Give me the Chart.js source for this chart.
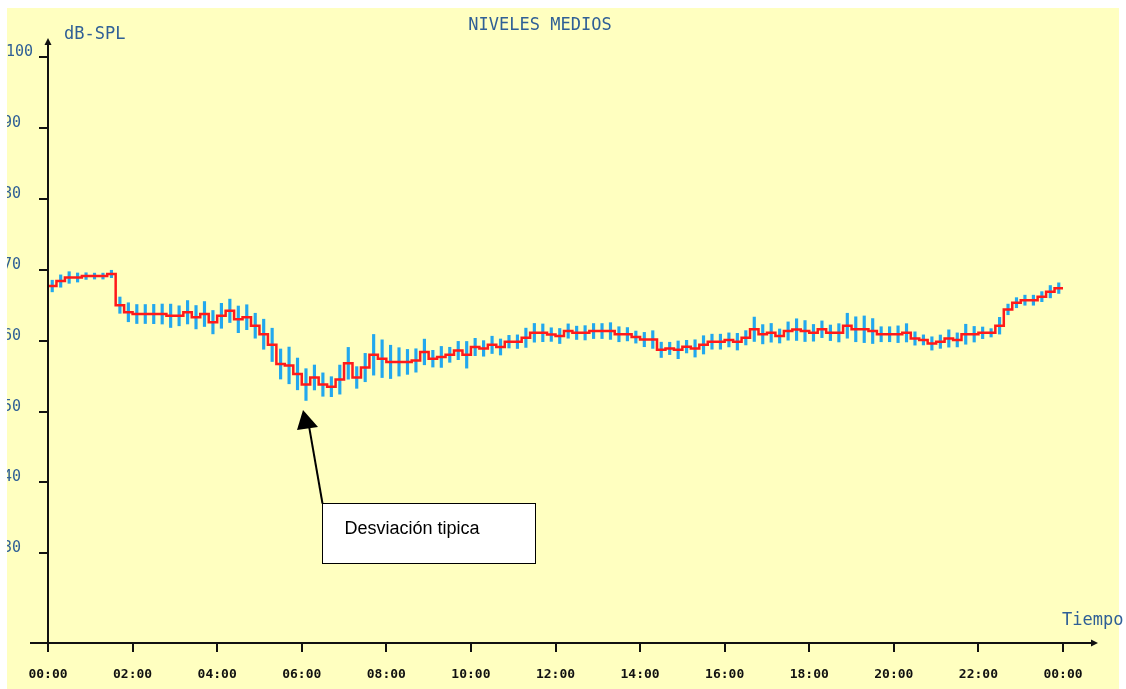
<!DOCTYPE html>
<html>
<head>
<meta charset="utf-8">
<script src="https://cdn.jsdelivr.net/npm/chart.js@4.4.1/dist/chart.umd.min.js"></script>
<style>
  html, body { margin: 0; padding: 0; background: #fff; }
  #wrap { position: relative; width: 1126px; height: 689px; overflow: hidden; }
  #bg { position: absolute; left: 7px; top: 8px; width: 1112px; height: 681px; background: #ffffc0; }
  canvas { position: absolute; left: 0; top: 0; }
</style>
</head>
<body>
<div id="wrap"><div id="bg"></div><canvas id="chart" width="1126" height="689"></canvas></div>
<script>
// mean level per 12-minute slot (dB-SPL)
const means = [
  67.7, 68.4, 68.9, 68.9, 69.1, 69.1, 69.1, 69.4, 65.0, 64.0,
  63.75, 63.75, 63.75, 63.75, 63.5, 63.5, 64.0, 63.3, 63.75, 62.6,
  63.5, 64.2, 63.0, 63.3, 62.1, 60.9, 59.4, 56.7, 56.5, 55.3,
  53.8, 54.8, 53.8, 53.5, 54.5, 56.8, 54.8, 56.2, 58.0, 57.45,
  57.0, 57.0, 57.0, 57.2, 58.4, 57.45, 57.7, 58.0, 58.6, 58.0,
  59.1, 58.9, 59.4, 59.1, 59.85, 59.85, 60.4, 61.1, 61.1, 60.85,
  60.65, 61.35, 61.1, 61.1, 61.35, 61.35, 61.35, 60.9, 60.9, 60.5,
  60.15, 60.15, 58.7, 58.9, 58.7, 59.15, 58.9, 59.4, 59.85, 59.85,
  60.1, 59.85, 60.4, 61.6, 60.9, 61.1, 60.65, 61.35, 61.55, 61.35,
  61.1, 61.6, 61.1, 61.1, 62.1, 61.6, 61.6, 61.35, 60.9, 60.9,
  60.9, 61.1, 60.3, 60.1, 59.6, 59.85, 60.3, 60.1, 60.9, 60.9,
  61.1, 61.1, 62.1, 64.4, 65.35, 65.7, 65.7, 66.2, 66.9, 67.4
];

// standard deviation per slot (dB)
const stdDev = [
  0.82, 0.87, 0.82, 0.64, 0.47, 0.42, 0.42, 0.52, 1.15, 1.34,
  1.34, 1.34, 1.36, 1.41, 1.65, 1.41, 1.65, 1.65, 1.76, 1.65,
  1.76, 1.65, 1.88, 1.76, 1.76, 2.12, 2.35, 2.12, 2.59, 2.24,
  2.24, 1.76, 1.65, 1.41, 2.05, 2.24, 1.53, 2.0, 2.87, 2.66,
  2.35, 2.0, 1.76, 1.65, 1.81, 1.18, 1.48, 1.06, 1.29, 1.88,
  1.22, 1.1, 1.22, 1.13, 0.89, 0.96, 1.36, 1.32, 1.25, 0.96,
  1.06, 1.01, 0.94, 1.01, 1.06, 1.06, 1.18, 1.06, 0.94, 0.85,
  1.01, 1.25, 1.08, 0.87, 1.25, 0.89, 1.22, 1.29, 1.06, 1.06,
  0.99, 1.18, 1.01, 1.72, 1.36, 1.32, 0.99, 1.29, 1.53, 1.48,
  1.18, 1.18, 1.1, 1.29, 1.76, 1.76, 1.88, 1.76, 1.06, 1.06,
  1.18, 1.29, 0.94, 0.71, 0.94, 0.94, 1.22, 0.99, 1.41, 1.1,
  0.82, 0.59, 1.18, 0.75, 0.71, 0.71, 0.71, 0.71, 0.87, 0.75
];

const slotMinutes = 12;
const xTickHours = [0, 2, 4, 6, 8, 10, 12, 14, 16, 18, 20, 22, 24];
const xTickLabels = ['00:00', '02:00', '04:00', '06:00', '08:00', '10:00', '12:00',
                     '14:00', '16:00', '18:00', '20:00', '22:00', '00:00'];
const yTickValues = [30, 40, 50, 60, 70, 80, 90, 100];

const title = 'NIVELES MEDIOS';
const yTitle = 'dB-SPL';
const xTitle = 'Tiempo';
const note = { text: 'Desviación tipica', x: 6.03, y: 50.2 };

const slotHours = slotMinutes / 60;
const stepPoints = means.map((v, i) => ({ x: i * slotHours, y: v }));
stepPoints.push({ x: means.length * slotHours, y: means[means.length - 1] });
const errorBars = means.map((v, i) => ({ x: (i + 0.5) * slotHours, y: [v - stdDev[i], v + stdDev[i]] }));

const blue = '#2f5f96';

const framePlugin = {
  id: 'frame',
  afterDraw(chart) {
    const ctx = chart.ctx;
    const xs = chart.scales.x, ys = chart.scales.y;
    const a = chart.chartArea;
    ctx.save();
    ctx.strokeStyle = '#111';
    ctx.fillStyle = '#111';
    ctx.lineWidth = 2;

    // y axis
    ctx.beginPath();
    ctx.moveTo(a.left, a.top + 2);
    ctx.lineTo(a.left, a.bottom + 8);
    ctx.stroke();
    ctx.beginPath();
    ctx.moveTo(a.left, a.top - 2);
    ctx.lineTo(a.left - 3.5, a.top + 5);
    ctx.lineTo(a.left + 3.5, a.top + 5);
    ctx.closePath();
    ctx.fill();

    // x axis
    ctx.beginPath();
    ctx.moveTo(a.left - 18, a.bottom);
    ctx.lineTo(a.right + 30, a.bottom);
    ctx.stroke();
    ctx.beginPath();
    ctx.moveTo(a.right + 35, a.bottom);
    ctx.lineTo(a.right + 28, a.bottom - 3.5);
    ctx.lineTo(a.right + 28, a.bottom + 3.5);
    ctx.closePath();
    ctx.fill();

    // y ticks + labels
    ctx.beginPath();
    yTickValues.forEach(v => {
      const y = Math.round(ys.getPixelForValue(v));
      ctx.moveTo(a.left - 9, y);
      ctx.lineTo(a.left, y);
    });
    ctx.stroke();

    ctx.save();
    ctx.beginPath();
    ctx.rect(7, 0, 60, chart.height);
    ctx.clip();
    ctx.fillStyle = blue;
    ctx.font = '15px "DejaVu Sans Mono"';
    ctx.textAlign = 'left';
    ctx.textBaseline = 'bottom';
    yTickValues.forEach(v => {
      const y = Math.round(ys.getPixelForValue(v));
      const s = String(v);
      ctx.fillText(s, s.length > 2 ? 6 : 3, y + 3);
    });
    ctx.restore();

    // x ticks + labels
    ctx.beginPath();
    xTickHours.forEach(h => {
      const x = Math.round(xs.getPixelForValue(h));
      ctx.moveTo(x, a.bottom);
      ctx.lineTo(x, a.bottom + 9);
    });
    ctx.stroke();
    ctx.fillStyle = '#111';
    ctx.font = 'bold 13px "DejaVu Sans Mono"';
    ctx.textAlign = 'center';
    ctx.textBaseline = 'middle';
    xTickHours.forEach((h, i) => {
      ctx.fillText(xTickLabels[i], xs.getPixelForValue(h), a.bottom + 32);
    });

    // titles
    ctx.fillStyle = blue;
    ctx.font = '17px "DejaVu Sans Mono"';
    ctx.textAlign = 'center';
    ctx.fillText(title, 540, 26);
    ctx.textAlign = 'left';
    ctx.fillText(yTitle, a.left + 16, 35);
    ctx.fillText(xTitle, a.right - 1, a.bottom - 22);

    // callout
    const tx = xs.getPixelForValue(note.x), ty = ys.getPixelForValue(note.y);
    const bx = Math.round(tx + 19) + 0.5, by = Math.round(ty + 93) + 0.5;
    ctx.fillStyle = '#fff';
    ctx.fillRect(bx, by, 213, 60);
    ctx.lineWidth = 1;
    ctx.strokeStyle = '#000';
    ctx.strokeRect(bx, by, 213, 60);
    ctx.lineWidth = 2;
    ctx.beginPath();
    ctx.moveTo(bx, by);
    ctx.lineTo(tx + 6, ty + 16);
    ctx.stroke();
    ctx.fillStyle = '#000';
    ctx.beginPath();
    ctx.moveTo(tx, ty);
    ctx.lineTo(tx - 6, ty + 20);
    ctx.lineTo(tx + 15, ty + 17);
    ctx.closePath();
    ctx.fill();
    ctx.font = '18px "Liberation Sans"';
    ctx.textAlign = 'left';
    ctx.textBaseline = 'middle';
    ctx.fillText(note.text, bx + 22, by + 26);

    ctx.restore();
  }
};

new Chart(document.getElementById('chart'), {
  type: 'line',
  data: {
    datasets: [
      {
        type: 'line',
        data: stepPoints,
        stepped: true,
        borderColor: '#ff1a1a',
        borderWidth: 2.5,
        pointRadius: 0,
        fill: false,
        order: 0
      },
      {
        type: 'bar',
        data: errorBars,
        backgroundColor: '#22a8ee',
        borderWidth: 0,
        barThickness: 2.5,
        order: 1
      }
    ]
  },
  options: {
    responsive: false,
    devicePixelRatio: 1,
    animation: false,
    layout: { padding: { left: 48, right: 63, top: 40, bottom: 46 } },
    plugins: { legend: { display: false }, tooltip: { enabled: false }, title: { display: false } },
    scales: {
      x: { type: 'linear', min: 0, max: 24, offset: false, display: false },
      y: { type: 'linear', min: 17.35, max: 102.4, display: false }
    }
  },
  plugins: [framePlugin]
});
</script>
</body>
</html>
